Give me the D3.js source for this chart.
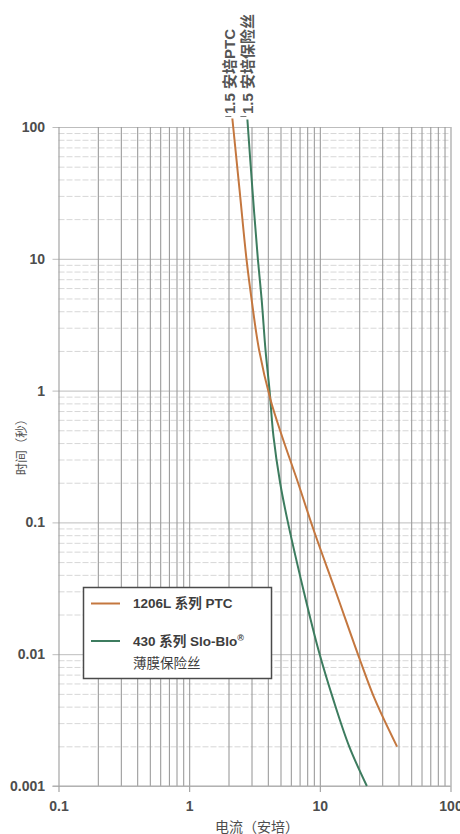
<!DOCTYPE html>
<html>
<head>
<meta charset="utf-8">
<script src="https://cdn.jsdelivr.net/npm/d3@7"></script>
<style>
  html, body { margin: 0; padding: 0; background: #ffffff; }
  svg { display: block; }
  text { font-family: "Liberation Sans", Arial, "Noto Sans CJK SC", sans-serif; }
</style>
</head>
<body>
<script>
// Time-current characteristics: 1206L PTC vs 430 Slo-Blo thin-film fuse
const ptcCurrent = [2.14, 2.43, 2.75, 3.01, 3.43, 4.20, 5.15, 6.82, 8.97, 13.1, 20.3, 26.5, 39.0];
const ptcTime    = [116, 33.3, 9.8, 4.86, 2.03, 0.849, 0.447, 0.199, 0.0875, 0.0307, 0.00904, 0.0045, 0.00199];

const fuseCurrent = [2.79, 3.05, 3.36, 3.59, 3.84, 4.12, 4.42, 4.97, 5.65, 7.49, 9.75, 12.7, 16.8, 22.9];
const fuseTime    = [114, 33.3, 9.8, 4.86, 2.03, 1.01, 0.447, 0.199, 0.104, 0.0307, 0.0108, 0.0045, 0.00199, 0.001];

const xTickValues = [0.1, 1, 10, 100];
const xTickLabels = ["0.1", "1", "10", "100"];
const yTickValues = [0.001, 0.01, 0.1, 1, 10, 100];
const yTickLabels = ["0.001", "0.01", "0.1", "1", "10", "100"];

const seriesNames = ["1206L 系列 PTC", "430 系列 Slo-Blo", "薄膜保险丝"];
const ratingLabels = ["1.5 安培PTC", "1.5 安培保险丝"];
const xTitle = "电流（安培）";
const yTitle = "时间（秒）";

const W = 460, H = 834;
const ORANGE = "#c4773f", GREEN = "#3d7c5f";

const svg = d3.select("body").append("svg").attr("width", W).attr("height", H);

const x = d3.scaleLog().domain([0.1, 100]).range([58.5, 450.5]);
const y = d3.scaleLog().domain([0.001, 100]).range([786, 127]);

// values 1..9 × each decade
function decadeValues(lo, hi) {
  const out = [];
  for (let e = Math.log10(lo); e < Math.log10(hi); e++)
    for (let m = 1; m < 10; m++) out.push(+(m * Math.pow(10, e)).toPrecision(3));
  out.push(hi);
  return out;
}
const xAll = decadeValues(0.1, 100);
const yAll = decadeValues(0.001, 100);
const isDecade = v => Math.abs(Math.log10(v) - Math.round(Math.log10(v))) < 1e-6;

const plotH = y(0.001) - y(100);
const plotW = x(100) - x(0.1);

// horizontal grid: dashed minor lines, solid decade lines with a short tick
const gy = svg.append("g").attr("transform", `translate(${x(0.1)},0)`)
  .call(d3.axisLeft(y).tickValues(yAll.filter(v => !isDecade(v))).tickSize(-plotW).tickFormat(""));
gy.select(".domain").remove();
gy.selectAll(".tick line").attr("stroke", "#d2d2d2").attr("stroke-dasharray", "6,2").attr("stroke-width", 0.9);

const gyMaj = svg.append("g").attr("transform", `translate(${x(0.1)},0)`)
  .call(d3.axisLeft(y).tickValues(yTickValues).tickSize(-plotW).tickFormat(""));
gyMaj.select(".domain").remove();
gyMaj.selectAll(".tick line").attr("stroke", "#bdbdbd").attr("stroke-width", 1).attr("x1", -6).attr("x2", plotW);

// vertical grid
const gx = svg.append("g").attr("transform", `translate(0,${y(0.001)})`)
  .call(d3.axisBottom(x).tickValues(xAll).tickSize(-plotH).tickFormat(""));
gx.select(".domain").remove();
gx.selectAll(".tick line").attr("stroke", "#9c9c9c").attr("stroke-width", 1.1)
  .attr("y2", d => isDecade(d) ? 6 : 0).attr("y1", -plotH);

// bottom edge
svg.append("line").attr("x1", x(0.1) - 6).attr("x2", x(100)).attr("y1", y(0.001)).attr("y2", y(0.001))
  .attr("stroke", "#a8a8a8").attr("stroke-width", 1);

// tick labels
const ax = svg.append("g").attr("transform", `translate(0,${y(0.001)})`)
  .call(d3.axisBottom(x).tickValues(xTickValues).tickSize(0).tickPadding(15)
    .tickFormat((d, i) => xTickLabels[i]));
ax.select(".domain").remove();
ax.selectAll("text").attr("font-size", 14).attr("font-weight", "bold").attr("fill", "#4d4d4d");

const ay = svg.append("g").attr("transform", `translate(45,0)`)
  .call(d3.axisLeft(y).tickValues(yTickValues).tickSize(0).tickPadding(0)
    .tickFormat((d, i) => yTickLabels[i]));
ay.select(".domain").remove();
ay.selectAll("text").attr("font-size", 14).attr("font-weight", "bold").attr("fill", "#4d4d4d");

// axis titles
svg.append("text").attr("x", 257).attr("y", 832).attr("text-anchor", "middle")
  .attr("font-size", 14).attr("fill", "#4d4d4d").text(xTitle);
svg.append("text").attr("transform", "translate(20,444) rotate(-90)")
  .attr("text-anchor", "middle").attr("dominant-baseline", "central")
  .style("font-family", "'Noto Sans CJK SC', sans-serif")
  .attr("font-size", 12.5).attr("fill", "#555555").text(yTitle);

// curves
const line = d3.line().x(d => x(d[0])).y(d => y(d[1])).curve(d3.curveCatmullRom.alpha(0.5));
const ptc = ptcCurrent.map((c, i) => [c, ptcTime[i]]);
const fuse = fuseCurrent.map((c, i) => [c, fuseTime[i]]);
svg.append("path").datum(fuse).attr("d", line).attr("fill", "none").attr("stroke", GREEN).attr("stroke-width", 2);
svg.append("path").datum(ptc).attr("d", line).attr("fill", "none").attr("stroke", ORANGE).attr("stroke-width", 2);

// rating labels above the curve tops, with short leader dashes
const tops = [ptc[0], fuse[0]];
const labelShift = [3, 6];
ratingLabels.forEach((t, i) => {
  const cx = x(tops[i][0]);
  svg.append("line").attr("x1", cx - 7).attr("x2", cx - 1).attr("y1", 116.5).attr("y2", 116.5)
    .attr("stroke", "#777").attr("stroke-width", 1);
  svg.append("text").attr("transform", `translate(${cx + labelShift[i]},114) rotate(-90)`)
    .attr("font-size", 15).attr("font-weight", "bold").attr("fill", "#555").text(t);
});

// legend
const lg = svg.append("g");
lg.append("rect").attr("x", 83.5).attr("y", 587.5).attr("width", 188).attr("height", 91)
  .attr("fill", "#fff").attr("stroke", "#4a4a4a").attr("stroke-width", 1.5);
lg.append("line").attr("x1", 91).attr("x2", 120).attr("y1", 603.5).attr("y2", 603.5)
  .attr("stroke", ORANGE).attr("stroke-width", 2);
lg.append("line").attr("x1", 91).attr("x2", 120).attr("y1", 641).attr("y2", 641)
  .attr("stroke", GREEN).attr("stroke-width", 2);
lg.append("text").attr("x", 133).attr("y", 608).attr("font-size", 13.5).attr("font-weight", "bold")
  .attr("fill", "#3d3d3d").text(seriesNames[0]);
const t2 = lg.append("text").attr("x", 133).attr("y", 646).attr("font-size", 13.5).attr("font-weight", "bold")
  .attr("fill", "#3d3d3d");
t2.append("tspan").text(seriesNames[1]);
t2.append("tspan").attr("font-size", 9).attr("dy", -5).text("®");
lg.append("text").attr("x", 133).attr("y", 668).attr("font-size", 13.5)
  .attr("fill", "#3d3d3d").text(seriesNames[2]);
</script>
</body>
</html>
